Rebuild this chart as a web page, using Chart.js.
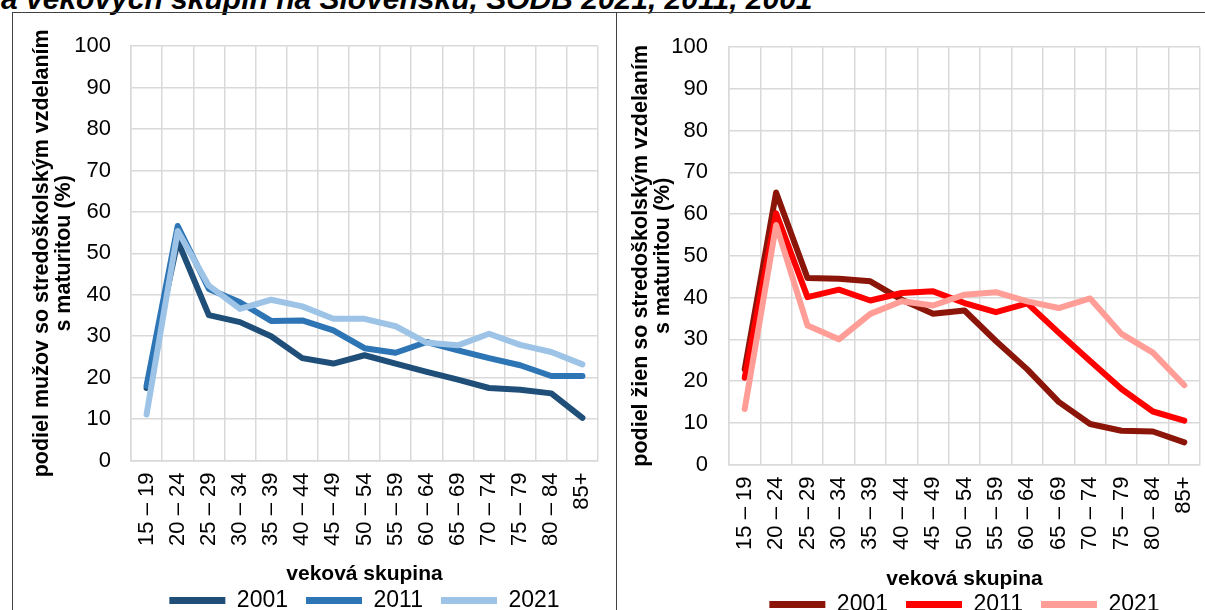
<!DOCTYPE html>
<html>
<head>
<meta charset="utf-8">
<script src="https://cdn.jsdelivr.net/npm/chart.js@4"></script>
<style>
  html, body { margin: 0; padding: 0; background: #fff; overflow: hidden; width: 1205px; height: 610px; }
  body { position: relative; font-family: "Liberation Sans", Arial, sans-serif; }
  #title { position: absolute; left: 1px; top: -16px; font-size: 30px; line-height: 29px; font-weight: bold; font-style: italic; white-space: nowrap; color: #000; }
  .frame { position: absolute; left: 12px; top: 12px; width: 1400px; height: 800px; border-top: 1px solid #404040; border-left: 1px solid #404040; }
  .divider { position: absolute; left: 616px; top: 12px; width: 1px; height: 800px; background: #404040; }
  .box { position: absolute; }
  #boxMen { left: 13px; top: 13px; width: 603px; height: 609px; }
  #boxWomen { left: 617px; top: 13px; width: 600px; height: 613px; }
</style>
</head>
<body>
<div id="title">a vekových skupín na Slovensku, SODB 2021, 2011, 2001</div>
<div class="frame"></div>
<div class="divider"></div>
<div class="box" id="boxMen"><canvas id="chartMen"></canvas></div>
<div class="box" id="boxWomen"><canvas id="chartWomen"></canvas></div>
<script>
var ageGroups = ["15 – 19", "20 – 24", "25 – 29", "30 – 34", "35 – 39", "40 – 44", "45 – 49",
  "50 – 54", "55 – 59", "60 – 64", "65 – 69", "70 – 74", "75 – 79", "80 – 84", "85+"];
var years = ["2001", "2011", "2021"];
var yTicks = [0, 10, 20, 30, 40, 50, 60, 70, 80, 90, 100];

var men2001 = [17.5, 53.0, 35.1, 33.4, 30.0, 24.7, 23.4, 25.4, 23.4, 21.4, 19.5, 17.5, 17.1, 16.2, 10.3];
var men2011 = [18.0, 56.6, 41.4, 38.2, 33.7, 33.8, 31.4, 27.1, 26.0, 28.6, 26.6, 24.7, 23.0, 20.4, 20.4];
var men2021 = [11.1, 55.4, 42.2, 36.6, 38.8, 37.2, 34.2, 34.2, 32.4, 28.4, 27.8, 30.6, 27.9, 26.2, 23.2];

var women2001 = [22.8, 65.2, 44.7, 44.5, 43.9, 39.5, 36.1, 36.9, 29.6, 22.8, 15.0, 9.7, 8.1, 7.9, 5.3];
var women2011 = [20.8, 60.2, 40.1, 41.9, 39.3, 41.1, 41.5, 38.7, 36.5, 38.6, 31.6, 24.8, 18.1, 12.7, 10.5];
var women2021 = [13.3, 57.4, 33.3, 30.0, 36.1, 39.1, 38.1, 40.7, 41.3, 39.1, 37.5, 39.8, 31.3, 26.8, 19.0];

var menColors = ["#1f4e79", "#2e75b6", "#9dc3e6"];
var womenColors = ["#8b1508", "#ff0000", "#ff9d96"];

var FONT = "'Liberation Sans', Arial, sans-serif";
var GRID = "#d9d9d9";

function makeChart(id, series, colors, yTitle, lay) {
  var datasets = series.map(function (values, i) {
    return {
      label: years[i],
      data: values,
      borderColor: colors[i],
      backgroundColor: colors[i],
      borderWidth: 6,
      borderCapStyle: "round",
      borderJoinStyle: "round",
      pointRadius: 0,
      pointHoverRadius: 0,
      pointStyle: "line",
      tension: 0,
      order: 3 - i
    };
  });

  return new Chart(document.getElementById(id), {
    type: "line",
    data: { labels: ageGroups, datasets: datasets },
    options: {
      responsive: true,
      maintainAspectRatio: false,
      animation: false,
      events: [],
      layout: { padding: { top: 28, right: lay.right, left: 0, bottom: 0 } },
      plugins: {
        tooltip: { enabled: false },
        legend: {
          position: "bottom",
          fullSize: false,
          labels: {
            usePointStyle: true,
            pointStyleWidth: 56,
            padding: 18,
            color: "#000",
            font: { family: FONT, size: 23 },
            generateLabels: function (chart) {
              return Chart.defaults.plugins.legend.labels.generateLabels(chart)
                .map(function (item) { item.lineWidth = 7; return item; })
                .sort(function (a, b) { return a.datasetIndex - b.datasetIndex; });
            }
          }
        }
      },
      scales: {
        x: {
          offset: true,
          grid: { offset: true, color: GRID, lineWidth: 1.5, drawTicks: false },
          border: { color: GRID, width: 1.5 },
          ticks: {
            autoSkip: false,
            minRotation: 90,
            maxRotation: 90,
            padding: 12,
            color: "#000",
            font: { family: FONT, size: 22 }
          },
          title: {
            display: true,
            text: "veková skupina",
            color: "#000",
            font: { family: FONT, size: 21, weight: "bold", lineHeight: 1.2 },
            padding: { top: 0, bottom: lay.xTitlePad }
          },
          afterFit: function (scale) {
            scale.height = lay.xHeight;
            scale.paddingLeft = 0;
            scale.paddingRight = 0;
          }
        },
        y: {
          min: 0,
          max: 100,
          afterBuildTicks: function (scale) {
            scale.ticks = yTicks.map(function (v) { return { value: v }; });
          },
          grid: { color: GRID, lineWidth: 1.5, drawTicks: false },
          border: { color: GRID, width: 1.5 },
          ticks: {
            padding: lay.yTickPad,
            color: "#000",
            font: { family: FONT, size: 22 }
          },
          title: {
            display: true,
            text: yTitle,
            color: "#000",
            font: { family: FONT, size: 21.5, weight: "bold", lineHeight: 1.0 },
            padding: { top: lay.yTitlePad, bottom: 0 }
          },
          afterFit: function (scale) { scale.width = lay.yWidth; }
        }
      }
    }
  });
}

makeChart("chartMen", [men2001, men2011, men2021], menColors,
  ["podiel mužov so stredoškolským vzdelaním", "s maturitou (%)"],
  { right: 18, xHeight: 110.5, xTitlePad: -16, yWidth: 118, yTickPad: 20, yTitlePad: 18.5 });

makeChart("chartWomen", [women2001, women2011, women2021], womenColors,
  ["podiel žien so stredoškolským vzdelaním", "s maturitou (%)"],
  { right: 17, xHeight: 110.5, xTitlePad: -17, yWidth: 112, yTickPad: 21, yTitlePad: 13.5 });
</script>
</body>
</html>
